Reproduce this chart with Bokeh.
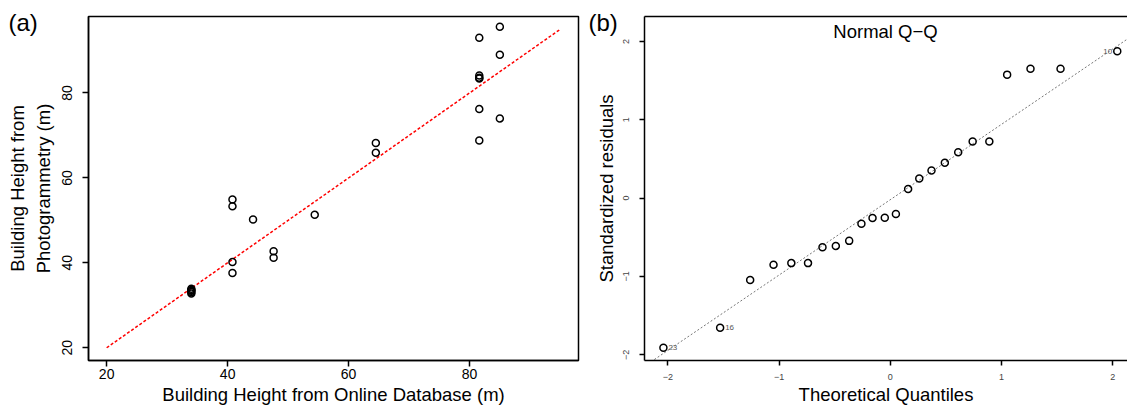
import math
from bokeh.plotting import figure
from bokeh.layouts import row
from bokeh.models import Range1d, Label, LinearAxis, FixedTicker, Title
from bokeh.core.properties import value
from bokeh.embed import file_html
from bokeh.resources import INLINE

FONT = "Liberation Sans"

# ---- Panel (a) data ----
online_db = [85.0, 81.6, 85.0, 81.6, 81.6, 81.6, 81.6, 85.0, 81.6,
             64.5, 64.5, 54.4, 44.2, 40.8, 40.8, 47.6, 47.6, 40.8, 40.8,
             34.0, 34.0, 34.0, 34.0, 34.0]
photogrammetry = [95.6, 93.0, 89.0, 84.1, 83.6, 83.4, 76.2, 74.0, 68.8,
                  68.2, 65.9, 51.3, 50.2, 54.9, 53.3, 42.7, 41.2, 40.2, 37.6,
                  33.9, 33.6, 33.4, 33.1, 32.8]
one_to_one = [20, 95]
a_ticks = [20, 40, 60, 80]

# ---- Panel (b) data ----
theoretical_q = [-2.04, -1.53, -1.26, -1.05, -0.89, -0.74, -0.61, -0.49,
                 -0.37, -0.26, -0.16, -0.05, 0.05, 0.16, 0.26, 0.37, 0.49,
                 0.61, 0.74, 0.89, 1.05, 1.26, 1.53, 2.04]
std_resid = [-1.91, -1.655, -1.046, -0.851, -0.83, -0.83, -0.626, -0.61,
             -0.546, -0.326, -0.254, -0.25, -0.203, 0.115, 0.25, 0.352,
             0.45, 0.585, 0.723, 0.723, 1.576, 1.652, 1.652, 1.873]
qq_intercept = -0.02
qq_slope = 0.962
qq_line_x = [-2.3, 2.3]
b_ticks = [-2, -1, 0, 1, 2]
outlier_x = [-2.04, -1.53, 2.04]
outlier_y = [-1.91, -1.655, 1.873]
outlier_lbl = ["23", "16", "10"]

# ================= Panel (a) =================
pa = figure(width=585, height=408, output_backend="svg", toolbar_location=None,
            x_range=Range1d(17, 98), y_range=Range1d(17, 98),
            min_border_left=88, min_border_right=7, min_border_top=16,
            min_border_bottom=46)
pa.grid.visible = False
pa.outline_line_color = "black"
pa.outline_line_width = 1.5
pa.background_fill_color = "white"
pa.border_fill_color = "white"

pa.line(one_to_one, one_to_one, line_color="red", line_width=1.5, line_dash="3 2")
pa.scatter(online_db, photogrammetry, size=7, fill_color=None,
           line_color="black", line_width=1.5)

for ax in (pa.xaxis[0], pa.yaxis[0]):
    ax.ticker = FixedTicker(ticks=a_ticks)
    ax.minor_tick_line_color = None
    ax.major_tick_in = 0
    ax.major_tick_out = 6
    ax.major_tick_line_width = 1.5
    ax.axis_line_width = 1.5
    ax.major_label_text_font = FONT
    ax.major_label_text_font_size = "14px"
    ax.major_label_text_color = "black"
    ax.axis_label_text_font = FONT
    ax.axis_label_text_font_size = "18.5px"
    ax.axis_label_text_font_style = "normal"
    ax.axis_label_text_color = "black"

pa.xaxis.axis_label = "Building Height from Online Database (m)"
pa.xaxis.major_label_standoff = 2
pa.xaxis.axis_label_standoff = 2
pa.yaxis.axis_label = "Building Height from\nPhotogrammetry (m)"
pa.yaxis.major_label_orientation = "vertical"
pa.yaxis.major_label_standoff = 10
pa.yaxis.axis_label_standoff = 6

pa.add_layout(Title(text="(a)", align="left", offset=-80, standoff=-38,
                    text_font=FONT, text_font_size="24px",
                    text_font_style="normal", text_color="black"), "above")

# ================= Panel (b) =================
pb = figure(width=542, height=408, output_backend="svg", toolbar_location=None,
            x_range=Range1d(-2.21, 2.132), y_range=Range1d(-2.073, 2.318),
            min_border_left=59, min_border_right=0, min_border_top=14,
            min_border_bottom=48)
pb.grid.visible = False
pb.outline_line_color = None
pb.background_fill_color = "white"
pb.border_fill_color = "white"

qq_line_y = [qq_intercept + qq_slope * x for x in qq_line_x]
pb.line(qq_line_x, qq_line_y, line_color="#777777", line_width=1, line_dash="2 2")
pb.scatter(theoretical_q, std_resid, size=7, fill_color=None,
           line_color="black", line_width=1.5)
pb.text(x=outlier_x[:2], y=outlier_y[:2], text=outlier_lbl[:2], x_offset=5,
        text_font=value(FONT), text_font_size="8px", text_color="#555555",
        text_baseline="middle", text_align="left")
pb.text(x=outlier_x[2:], y=outlier_y[2:], text=outlier_lbl[2:], x_offset=-5,
        text_font=value(FONT), text_font_size="8px", text_color="#555555",
        text_baseline="middle", text_align="right")

overrides = {t: (("\u2212" + str(-t)) if t < 0 else str(t)) for t in b_ticks}
for ax in (pb.xaxis[0], pb.yaxis[0]):
    ax.ticker = FixedTicker(ticks=b_ticks)
    ax.major_label_overrides = overrides
    ax.minor_tick_line_color = None
    ax.major_tick_in = 0
    ax.major_tick_out = 5
    ax.major_tick_line_width = 1.5
    ax.axis_line_width = 1.5
    ax.major_label_text_font = FONT
    ax.major_label_text_font_size = "9px"
    ax.major_label_text_color = "#444444"
    ax.axis_label_text_font = FONT
    ax.axis_label_text_font_size = "18.5px"
    ax.axis_label_text_font_style = "normal"
    ax.axis_label_text_color = "black"

pb.xaxis.axis_label = "Theoretical Quantiles"
pb.xaxis.major_label_standoff = 8
pb.xaxis.axis_label_standoff = 1
pb.yaxis.axis_label = "Standardized residuals"
pb.yaxis.major_label_orientation = "vertical"
pb.yaxis.major_label_standoff = 10
pb.yaxis.axis_label_standoff = 4

top_ax = LinearAxis(ticker=FixedTicker(ticks=[]), axis_line_width=1.5,
                    major_tick_out=0, major_tick_in=0, minor_tick_out=0,
                    minor_tick_in=0, major_label_text_font_size="0px")
pb.add_layout(top_ax, "above")

pb.add_layout(Label(x=241, y=329, x_units="screen", y_units="screen",
                    text="Normal Q\u2212Q", text_font=FONT,
                    text_font_size="18.5px", text_baseline="middle",
                    text_align="center", text_color="black"))
pb.add_layout(Title(text="(b)", align="left", offset=-56, standoff=-38,
                    text_font=FONT, text_font_size="24px",
                    text_font_style="normal", text_color="black"), "above")

layout = row(pa, pb, spacing=0)
open("out.html", "w").write(file_html(layout, INLINE))
